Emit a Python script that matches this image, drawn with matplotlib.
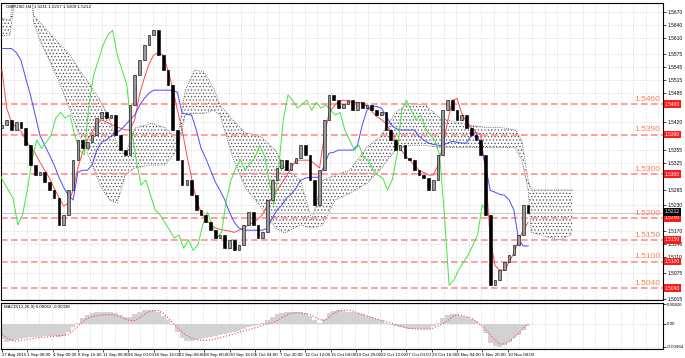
import numpy as np
import matplotlib.pyplot as plt
from matplotlib.transforms import blended_transform_factory

plt.rcParams['font.family'] = ['Liberation Sans', 'DejaVu Sans']
plt.rcParams['hatch.linewidth'] = 0.5

# GBPUSD H4, one drawn candle = 3 H4 bars
step = 3
first_open = 1.5405
closes = [1.5412, 1.5424, 1.5401, 1.5419, 1.5405, 1.5366, 1.5321, 1.5298, 1.5304, 1.5282,
          1.5264, 1.5245, 1.5184, 1.5207, 1.5264, 1.5332, 1.5378, 1.5359, 1.5373, 1.5389,
          1.5428, 1.5441, 1.5428, 1.5435, 1.5389, 1.5355, 1.5344, 1.5458, 1.5526, 1.5560,
          1.5595, 1.5618, 1.5629, 1.5572, 1.5538, 1.5503, 1.5401, 1.5332, 1.5275, 1.5287,
          1.5252, 1.5218, 1.5207, 1.5190, 1.5173, 1.5154, 1.5161, 1.5131, 1.5150, 1.5126,
          1.5138, 1.5184, 1.5213, 1.5184, 1.5154, 1.5168, 1.5241, 1.5287, 1.5314, 1.5332,
          1.5309, 1.5325, 1.5337, 1.5366, 1.5344, 1.5287, 1.5230, 1.5309, 1.5424, 1.5481,
          1.5469, 1.5451, 1.5460, 1.5469, 1.5446, 1.5464, 1.5451, 1.5458, 1.5446, 1.5435,
          1.5441, 1.5401, 1.5378, 1.5355, 1.5366, 1.5337, 1.5332, 1.5309, 1.5298, 1.5291,
          1.5264, 1.5287, 1.5344, 1.5446, 1.5469, 1.5446, 1.5424, 1.5435, 1.5405, 1.5389,
          1.5378, 1.5344, 1.5207, 1.5046, 1.5058, 1.5081, 1.5099, 1.5115, 1.5138, 1.5161,
          1.5230, 1.5212]

tenkan = [1.5537, 1.5450, 1.5419, 1.5407, 1.5398, 1.5378, 1.5362, 1.5348, 1.5327, 1.5309,
          1.5291, 1.5268, 1.5247, 1.5227, 1.5234, 1.5264, 1.5314, 1.5350, 1.5378, 1.5396,
          1.5414, 1.5424, 1.5419, 1.5414, 1.5409, 1.5405, 1.5401, 1.5401, 1.5424, 1.5481,
          1.5519, 1.5551, 1.5572, 1.5578, 1.5572, 1.5537, 1.5498, 1.5446, 1.5401, 1.5344,
          1.5291, 1.5241, 1.5213, 1.5197, 1.5186, 1.5177, 1.5174, 1.5172, 1.5170, 1.5167,
          1.5172, 1.5177, 1.5184, 1.5190, 1.5197, 1.5209, 1.5229, 1.5247, 1.5263, 1.5279,
          1.5295, 1.5314, 1.5332, 1.5332, 1.5332, 1.5332, 1.5323, 1.5314, 1.5389, 1.5439,
          1.5455, 1.5466, 1.5469, 1.5466, 1.5464, 1.5464, 1.5462, 1.5455, 1.5444, 1.5432,
          1.5425, 1.5416, 1.5398, 1.5378, 1.5359, 1.5344, 1.5332, 1.5321, 1.5309, 1.5304,
          1.5298, 1.5298, 1.5321, 1.5366, 1.5419, 1.5469, 1.5473, 1.5439, 1.5419, 1.5407,
          1.5396, 1.5389, 1.5309, 1.5154, 1.5092, 1.5081, 1.5081, 1.5099, 1.5120, 1.5150,
          1.5172, 1.5190]

kijun = [1.5587, 1.5587, 1.5587, 1.5578, 1.5560, 1.5519, 1.5481, 1.5435, 1.5389, 1.5366,
         1.5344, 1.5321, 1.5293, 1.5270, 1.5252, 1.5241, 1.5304, 1.5309, 1.5309, 1.5321,
         1.5355, 1.5373, 1.5378, 1.5387, 1.5393, 1.5401, 1.5412, 1.5424, 1.5435, 1.5457,
         1.5473, 1.5485, 1.5492, 1.5492, 1.5492, 1.5492, 1.5492, 1.5487, 1.5439, 1.5437,
         1.5435, 1.5401, 1.5359, 1.5336, 1.5309, 1.5282, 1.5263, 1.5241, 1.5213, 1.5190,
         1.5177, 1.5172, 1.5172, 1.5172, 1.5172, 1.5172, 1.5177, 1.5199, 1.5218, 1.5229,
         1.5245, 1.5254, 1.5268, 1.5286, 1.5291, 1.5293, 1.5293, 1.5293, 1.5321, 1.5348,
         1.5350, 1.5355, 1.5355, 1.5355, 1.5355, 1.5366, 1.5412, 1.5446, 1.5455, 1.5455,
         1.5451, 1.5435, 1.5414, 1.5405, 1.5401, 1.5401, 1.5401, 1.5401, 1.5387, 1.5378,
         1.5371, 1.5368, 1.5366, 1.5366, 1.5371, 1.5375, 1.5373, 1.5371, 1.5371, 1.5389,
         1.5396, 1.5366, 1.5321, 1.5263, 1.5259, 1.5254, 1.5252, 1.5241, 1.5218, 1.5150,
         1.5136, 1.5136]

# kumo, already shifted 26 bars forward (bar index, span values)
cloud_bars = [0, 5, 8, 19, 20, 24, 30, 37, 43, 49, 56, 62, 68, 73, 78, 84, 94, 103, 111, 116,
              122, 128, 134, 138, 146, 154, 163, 173, 179, 189, 196, 203, 211, 220, 231, 239,
              249, 258, 268, 277, 287, 296, 306, 315, 325, 329, 333, 335, 344, 353, 361]
senkou_a = [1.5656, 1.5652, 1.5710, 1.5710, 1.5663, 1.5647, 1.5622, 1.5595, 1.5572, 1.5538,
            1.5503, 1.5469, 1.5428, 1.5366, 1.5344, 1.5405, 1.5416, 1.5407, 1.5378, 1.5492,
            1.5538, 1.5533, 1.5496, 1.5458, 1.5424, 1.5394, 1.5389, 1.5355, 1.5314, 1.5286,
            1.5195, 1.5286, 1.5298, 1.5309, 1.5362, 1.5384, 1.5441, 1.5462, 1.5458, 1.5428,
            1.5419, 1.5412, 1.5407, 1.5407, 1.5401, 1.5378, 1.5287, 1.5264, 1.5264, 1.5264,
            1.5264]
senkou_b = [1.5617, 1.5617, 1.5700, 1.5700, 1.5647, 1.5606, 1.5560, 1.5503, 1.5446, 1.5389,
            1.5332, 1.5275, 1.5241, 1.5234, 1.5298, 1.5314, 1.5321, 1.5321, 1.5355, 1.5435,
            1.5439, 1.5439, 1.5446, 1.5435, 1.5339, 1.5268, 1.5230, 1.5177, 1.5165, 1.5184,
            1.5177, 1.5184, 1.5241, 1.5256, 1.5279, 1.5309, 1.5355, 1.5366, 1.5366, 1.5361,
            1.5361, 1.5361, 1.5361, 1.5361, 1.5361, 1.5332, 1.5264, 1.5167, 1.5158, 1.5150,
            1.5163]

macd_main = [-0.0065, -0.0075, -0.0074, -0.0068, -0.0062, -0.0058, -0.0055, -0.0054, -0.0054, -0.0053,
             -0.0052, -0.0052, -0.0055, -0.0050, -0.0035, -0.0015, 0.0005, 0.0025, 0.0038, 0.0045,
             0.0048, 0.0050, 0.0050, 0.0048, 0.0045, 0.0038, 0.0030, 0.0030, 0.0040, 0.0050,
             0.0058, 0.0060, 0.0060, 0.0052, 0.0035, 0.0018, -0.0005, -0.0035, -0.0060, -0.0073,
             -0.0074, -0.0070, -0.0065, -0.0060, -0.0055, -0.0050, -0.0045, -0.0042, -0.0040, -0.0035,
             -0.0030, -0.0022, -0.0012, -0.0008, -0.0005, 0.0003, 0.0018, 0.0030, 0.0040, 0.0045,
             0.0048, 0.0050, 0.0048, 0.0048, 0.0045, 0.0035, 0.0015, 0.0005, 0.0020, 0.0045,
             0.0055, 0.0058, 0.0056, 0.0052, 0.0050, 0.0045, 0.0040, 0.0035, 0.0028, 0.0020,
             0.0015, 0.0005, -0.0003, -0.0010, -0.0015, -0.0018, -0.0020, -0.0022, -0.0020, -0.0022,
             -0.0020, -0.0010, 0.0005, 0.0025, 0.0038, 0.0042, 0.0040, 0.0035, 0.0028, 0.0020,
             0.0012, -0.0005, -0.0040, -0.0080, -0.0095, -0.0096, -0.0088, -0.0075, -0.0060, -0.0045,
             -0.0025, -0.0008]
macd_signal = [-0.0045, -0.0058, -0.0070, -0.0073, -0.0070, -0.0066, -0.0063, -0.0060, -0.0058, -0.0056,
               -0.0054, -0.0052, -0.0050, -0.0048, -0.0043, -0.0030, -0.0010, 0.0008, 0.0023, 0.0030,
               0.0034, 0.0037, 0.0039, 0.0039, 0.0036, 0.0029, 0.0020, 0.0014, 0.0014, 0.0026,
               0.0040, 0.0051, 0.0057, 0.0057, 0.0045, 0.0026, 0.0005, -0.0016, -0.0035, -0.0050,
               -0.0060, -0.0066, -0.0069, -0.0070, -0.0068, -0.0063, -0.0058, -0.0053, -0.0048, -0.0042,
               -0.0036, -0.0030, -0.0024, -0.0019, -0.0013, -0.0006, 0.0000, 0.0004, 0.0014, 0.0026,
               0.0036, 0.0044, 0.0047, 0.0046, 0.0042, 0.0039, 0.0030, 0.0018, 0.0014, 0.0028,
               0.0045, 0.0054, 0.0058, 0.0058, 0.0054, 0.0047, 0.0040, 0.0034, 0.0028, 0.0021,
               0.0015, 0.0009, 0.0004, -0.0003, -0.0010, -0.0016, -0.0019, -0.0021, -0.0022, -0.0023,
               -0.0023, -0.0018, -0.0009, 0.0000, 0.0014, 0.0030, 0.0039, 0.0036, 0.0030, 0.0024,
               0.0012, -0.0005, -0.0022, -0.0045, -0.0068, -0.0085, -0.0084, -0.0074, -0.0058, -0.0040,
               -0.0020, 0.0002]

levels = [1.5460, 1.5390, 1.5300, 1.5200, 1.5150, 1.5100, 1.5040]
last_price = 1.5212
price_ticks = [1.5015, 1.5075, 1.5110, 1.5140, 1.5170, 1.5230, 1.5265,
               1.5325, 1.5355, 1.5420, 1.5485, 1.5515, 1.5545, 1.5575, 1.5610,
               1.5640, 1.5670]
date_labels = ['27 Aug 2015', '1 Sep 08:00', '4 Sep 00:00', '8 Sep 16:00', '11 Sep 08:00',
               '16 Sep 00:00', '18 Sep 16:00', '23 Sep 08:00', '28 Sep 00:00', '30 Sep 16:00',
               '5 Oct 04:00', '7 Oct 20:00', '12 Oct 12:00', '15 Oct 04:00', '19 Oct 20:00',
               '22 Oct 12:00', '27 Oct 00:00', '29 Oct 16:00', '3 Nov 04:00', '5 Nov 20:00',
               '10 Nov 08:00']

bars = np.arange(len(closes)) * step
c = np.array(closes)
o = np.concatenate([[first_open], c[:-1]])

fig = plt.figure(figsize=(6.85, 3.58), dpi=100)
ax = fig.add_axes([0.0015, 0.162, 0.9664, 0.8296])
ax2 = fig.add_axes([0.0015, 0.0251, 0.9664, 0.1285], sharex=ax)

# kumo
ax.fill_between(cloud_bars, senkou_a, senkou_b, facecolor='none', hatch='.....',
                edgecolor='#4a4a4a', linewidth=0, zorder=1)
ax.plot(cloud_bars, senkou_a, color='#505050', lw=0.6, ls=':', zorder=1)
ax.plot(cloud_bars, senkou_b, color='#505050', lw=0.6, ls=':', zorder=1)

# levels
for lv in levels:
    ax.axhline(lv, color='#ff8f8f', lw=1.2, dashes=(4, 2), zorder=2)
    ax.text(416.5, lv + 0.0003, f'{lv:.4f}', ha='right', va='bottom',
            color='#ff7f50', fontsize=6)
ax.axhline(last_price, color='#c8c8c8', lw=0.8, zorder=1.5)

# ichimoku lines
ax.plot(bars, tenkan, color='#ff4a4a', lw=0.7, zorder=3)
ax.plot(bars, kijun, color='#4a4aff', lw=0.7, zorder=3)
ax.plot(bars - 26, closes, color='#3ee83e', lw=0.7, zorder=3)

# candles
up = c >= o
low = np.minimum(o, c)
height = np.maximum(np.abs(c - o), 0.00005)
ax.vlines(bars, low, low + height, color='black', lw=0.8, zorder=4)
ax.bar(bars[up], height[up], bottom=low[up], width=1.7, color='#9a9a9a',
       edgecolor='black', linewidth=0.4, zorder=5)
ax.bar(bars[~up], height[~up], bottom=low[~up], width=1.7, color='black',
       edgecolor='black', linewidth=0.4, zorder=5)

ax.set_xlim(-0.63, 418.4)
ax.set_ylim(1.50126, 1.5691)
ax.yaxis.tick_right()
ax.set_yticks(price_ticks)
ax.set_yticklabels([f'{t:.4f}' for t in price_ticks])
ax.tick_params(axis='y', labelsize=3.5, length=2, width=0.5, pad=1.5)
ax.tick_params(axis='x', bottom=False, labelbottom=False)
ax.grid(axis='y', color='#c8c8c8', ls=':', lw=0.5)

trans = blended_transform_factory(ax.transAxes, ax.transData)
for lv in levels:
    ax.text(1.003, lv, f'{lv:.4f}', transform=trans, fontsize=3.5, color='white',
            va='center', ha='left', clip_on=False,
            bbox=dict(boxstyle='square,pad=0.25', fc='#ff1a1a', ec='none'))
ax.text(1.003, last_price + 0.0002, f'{last_price:.4f}', transform=trans, fontsize=3.5,
        color='white', va='center', ha='left', clip_on=False,
        bbox=dict(boxstyle='square,pad=0.25', fc='black', ec='none'))

ax.text(0.008, 0.995, 'GBPUSD,H4  1.5211 1.5217 1.5209 1.5212', transform=ax.transAxes,
        va='top', ha='left', fontsize=3.2)

# MACD
ax2.bar(bars, macd_main, width=3, color='#d2d2d2', linewidth=0, zorder=2)
ax2.plot(bars, macd_signal, color='#ff4040', lw=0.8, ls=':', zorder=3)
ax2.set_ylim(-0.0106, 0.0088)
ax2.yaxis.tick_right()
ax2.set_yticks([-0.00964, 0.0, 0.00826])
ax2.set_yticklabels(['-0.00964', '0.00', '0.00826'])
ax2.tick_params(axis='y', labelsize=3.2, length=2, width=0.5, pad=1)
ax2.set_xticks(list(range(0, 321, 16)))
ax2.set_xticklabels(date_labels, ha='left', fontsize=3.2)
ax2.tick_params(axis='x', length=2, width=0.5, pad=1)
ax2.grid(axis='y', color='#c8c8c8', ls=':', lw=0.5)
ax2.text(0.004, 0.96, 'MACD(12,26,9) 0.00062 -0.00038', transform=ax2.transAxes,
         va='top', ha='left', fontsize=3.2)

for a in (ax, ax2):
    for xg in np.arange(7.5, 418, 8):
        a.axvline(xg, color='#c8c8c8', ls=':', lw=0.5, zorder=0)
    for s in a.spines.values():
        s.set_linewidth(0.8)

fig.savefig('out.png', dpi=100)
